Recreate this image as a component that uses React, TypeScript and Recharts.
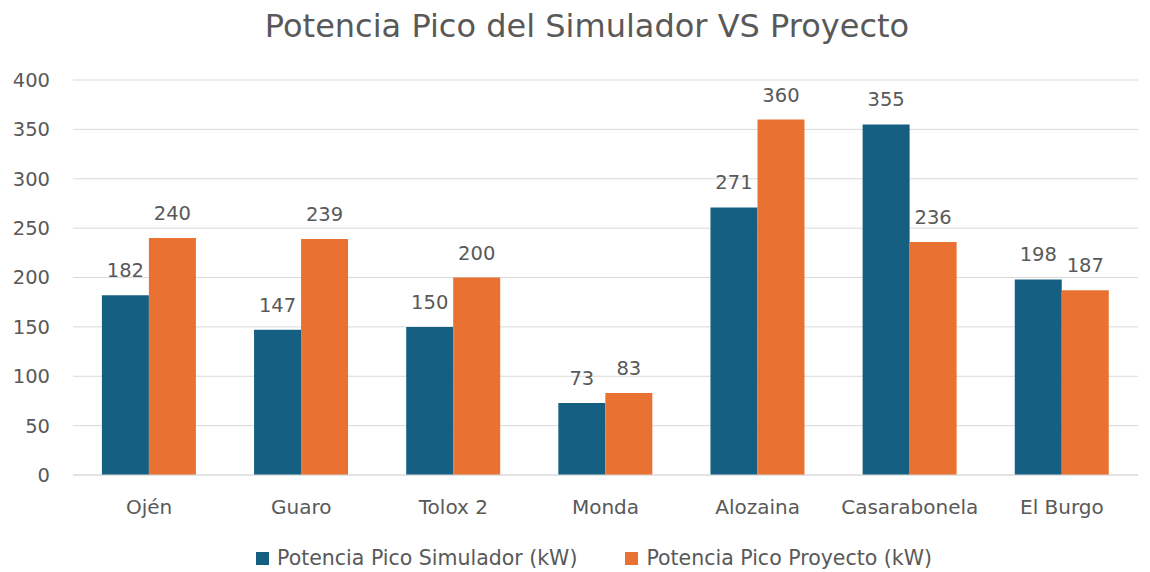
import { Bar, BarChart, CartesianGrid, LabelList, Legend, XAxis, YAxis } from "recharts";

const categories = ["Ojén", "Guaro", "Tolox 2", "Monda", "Alozaina", "Casarabonela", "El Burgo"];
const simulador = [182, 147, 150, 73, 271, 355, 198];
const proyecto = [240, 239, 200, 83, 360, 236, 187];
const yTicks = [0, 50, 100, 150, 200, 250, 300, 350, 400];

const data = categories.map((name, i) => ({ name, simulador: simulador[i], proyecto: proyecto[i] }));

const BLUE = "#156082";
const ORANGE = "#E97132";
const TEXT = "#595959";
const FONT = "'DejaVu Sans', 'Open Sans', sans-serif";

function LegendContent() {
  const items = [
    { color: BLUE, label: "Potencia Pico Simulador (kW)" },
    { color: ORANGE, label: "Potencia Pico Proyecto (kW)" },
  ];
  return (
    <div
      style={{
        display: "flex",
        justifyContent: "center",
        gap: 48,
        paddingTop: 11,
        paddingLeft: 50,
        fontFamily: FONT,
        fontSize: 20.5,
        color: TEXT,
      }}
    >
      {items.map((it) => (
        <span key={it.label} style={{ display: "flex", alignItems: "center", gap: 8 }}>
          <span style={{ width: 13, height: 13, background: it.color, display: "inline-block" }} />
          {it.label}
        </span>
      ))}
    </div>
  );
}

export default function App() {
  return (
    <div style={{ position: "absolute", left: 0, top: 0, width: 1150, height: 572, background: "#fff" }}>
      <div
        style={{
          position: "absolute",
          top: 7,
          left: 12,
          width: 1150,
          textAlign: "center",
          fontFamily: FONT,
          fontSize: 32,
          color: TEXT,
        }}
      >
        Potencia Pico del Simulador VS Proyecto
      </div>
      <BarChart
        width={1150}
        height={572}
        data={data}
        margin={{ top: 80, right: 12, bottom: 0, left: 0 }}
        barCategoryGap="19%"
        barGap={0}
      >
        <CartesianGrid stroke="#d9d9d9" vertical={false} />
        <XAxis
          dataKey="name"
          tick={{ fill: TEXT, fontSize: 20, fontFamily: FONT }}
          axisLine={{ stroke: "#d9d9d9" }}
          tickLine={false}
          tickSize={0}
          tickMargin={25}
          height={60}
        />
        <YAxis
          domain={[0, 400]}
          ticks={yTicks}
          width={73}
          tick={{ fill: TEXT, fontSize: 19.5, fontFamily: FONT }}
          axisLine={false}
          tickLine={false}
          tickSize={0}
          tickMargin={23}
        />
        <Legend verticalAlign="bottom" height={37} content={<LegendContent />} />
        <Bar dataKey="simulador" fill={BLUE} isAnimationActive={false}>
          <LabelList dataKey="simulador" position="top" offset={18} fill={TEXT} fontSize={19.5} fontFamily={FONT} />
        </Bar>
        <Bar dataKey="proyecto" fill={ORANGE} isAnimationActive={false}>
          <LabelList dataKey="proyecto" position="top" offset={18} fill={TEXT} fontSize={19.5} fontFamily={FONT} />
        </Bar>
      </BarChart>
    </div>
  );
}
